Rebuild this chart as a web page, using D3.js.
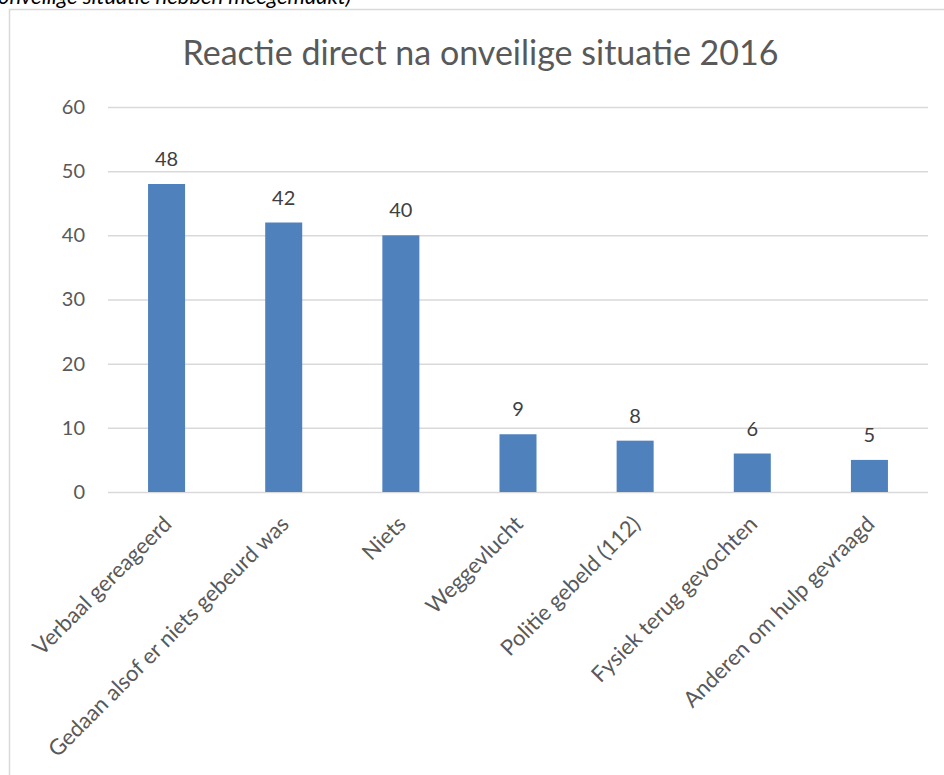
<!DOCTYPE html>
<html>
<head>
  <title>Reactie direct na onveilige situatie 2016</title>
  <meta charset="utf-8">
<style type="text/css">
body {
  margin: 0;
  background: #fff;
  font-family: Lato, "Open Sans", sans-serif;
}

.axis text {
  font-size: 20px;
  fill: #595959;
  font-family: Lato;
}

.x.axis text {
  font-size: 22px;
}

.axis path,
.axis line {
  fill: none;
}

.grid line {
  stroke: #d9d9d9;
  stroke-width: 1.5px;
}

.value {
  font-size: 20px;
  fill: #404040;
  font-family: Lato;
}

.title {
  font-size: 34px;
  fill: #595959;
  font-family: Lato;
}
</style>
</head>
<body>
<script src="https://cdn.jsdelivr.net/npm/d3@7"></script>
<script>
var categories = ["Verbaal gereageerd", "Gedaan alsof er niets gebeurd was", "Niets",
  "Weggevlucht", "Politie gebeld (112)", "Fysiek terug gevochten", "Anderen om hulp gevraagd"];
var values = [48, 42, 40, 9, 8, 6, 5];
var yTicks = [0, 10, 20, 30, 40, 50, 60];

var width = 944;
var height = 775;
var margin = { top: 107, right: 16, bottom: 283, left: 108 };

var svg = d3.select("body")
  .append("svg")
    .attr("width", width)
    .attr("height", height);

// leftover caption line from the document above the chart
svg.append("text")
  .attr("x", -2)
  .attr("y", 4)
  .style("font-family", "Lato")
  .style("font-style", "italic")
  .style("font-size", "22px")
  .style("fill", "#000")
  .text("onveilige situatie hebben meegemaakt)");

// chart box (runs past the page edge)
svg.append("rect")
  .attr("x", 9.5)
  .attr("y", 9.5)
  .attr("width", 943)
  .attr("height", 800)
  .attr("fill", "#fff")
  .attr("stroke", "#d9d9d9")
  .attr("stroke-width", 1.5);

svg.append("text")
  .attr("class", "title")
  .attr("x", 480.5)
  .attr("y", 65)
  .attr("text-anchor", "middle")
  .text("Reactie direct na onveilige situatie 2016");

var xscale = d3.scaleBand()
  .domain(categories)
  .range([margin.left, width - margin.right])
  .paddingInner(0.684)
  .paddingOuter(0.342);

var yscale = d3.scaleLinear()
  .domain([0, 60])
  .range([height - margin.bottom, margin.top]);

var plotW = width - margin.right - margin.left;

// gridlines
svg.append("g")
  .attr("class", "grid")
  .attr("transform", "translate(" + margin.left + ",0)")
  .call(d3.axisRight(yscale).tickValues(yTicks).tickSize(plotW).tickFormat(""))
  .call(function(g) { g.select(".domain").remove(); });

// y labels
svg.append("g")
  .attr("class", "y axis")
  .attr("transform", "translate(" + (margin.left - 23) + ",0)")
  .call(d3.axisLeft(yscale).tickValues(yTicks).tickSize(0).tickPadding(0))
  .call(function(g) { g.select(".domain").remove(); });

svg.selectAll("rect.bar")
  .data(values)
  .enter().append("rect")
    .attr("class", "bar")
    .attr("x", function(d, i) { return xscale(categories[i]); })
    .attr("y", function(d) { return yscale(d); })
    .attr("width", xscale.bandwidth())
    .attr("height", function(d) { return yscale(0) - yscale(d); })
    .attr("fill", "#4f81bd");

svg.selectAll("text.value")
  .data(values)
  .enter().append("text")
    .attr("class", "value")
    .attr("x", function(d, i) { return xscale(categories[i]) + xscale.bandwidth() / 2; })
    .attr("y", function(d) { return yscale(d) - 18; })
    .attr("text-anchor", "middle")
    .text(function(d) { return d; });

// rotated category labels
var xAxis = svg.append("g")
  .attr("class", "x axis")
  .attr("transform", "translate(0," + yscale(0) + ")")
  .call(d3.axisBottom(xscale).tickSize(0).tickPadding(0));

xAxis.select(".domain").remove();

xAxis.selectAll("text")
  .attr("x", 0)
  .attr("y", 0)
  .attr("dy", "0.35em")
  .attr("transform", "translate(1,28) rotate(-45)")
  .style("text-anchor", "end");
</script>
</body>
</html>
